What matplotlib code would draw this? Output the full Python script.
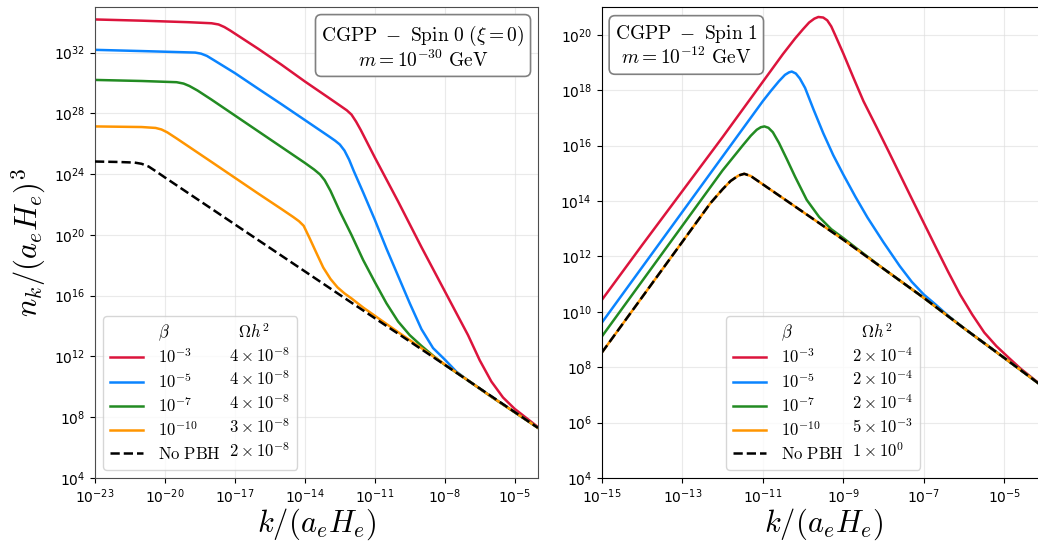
import matplotlib
matplotlib.use("Agg")
import matplotlib.pyplot as plt
from matplotlib.lines import Line2D
from matplotlib.font_manager import FontProperties
import numpy as np

# ---- data: log10 k and log10 n_k ----
# left panel, spin 0, m = 1e-30 GeV
L_red_k = [-23, -21, -19, -18, -17.7, -17.45, -17.2, -16, -15, -14, -13, -12.5, -12.2, -12.0, -11.8, -11.6, -11, -10, -9, -8, -7, -6.5, -6, -5.5, -5, -4.5, -4]
L_red_n = [34.18, 34.1, 34.0, 33.93, 33.85, 33.68, 33.45, 32.25, 31.2, 30.1, 29.05, 28.52, 28.2, 27.92, 27.45, 26.9, 25.1, 22.2, 19.2, 16.3, 13.4, 11.75, 10.35, 9.3, 8.55, 7.95, 7.35]
L_blue_k = [-23, -21, -18.7, -18.45, -18.2, -17.9, -17, -16, -15, -14, -13, -12.7, -12.5, -12.3, -12.1, -11.9, -11.5, -11, -10.5, -10, -9.5, -9, -8.5, -8, -7.5, -7, -6, -5, -4]
L_blue_n = [32.18, 32.1, 32.0, 31.93, 31.78, 31.5, 30.65, 29.62, 28.6, 27.56, 26.52, 26.2, 25.95, 25.55, 24.95, 24.2, 22.8, 21.0, 19.1, 17.3, 15.5, 13.8, 12.55, 11.8, 11.0, 10.42, 9.35, 8.33, 7.3]
L_green_k = [-23, -21, -19.5, -19.2, -18.95, -18.6, -18, -17, -16, -15, -14, -13.6, -13.35, -13.15, -12.9, -12.5, -12, -11.5, -11, -10.5, -10, -9.5, -9, -8.5, -8, -7, -6, -5, -4]
L_green_n = [30.2, 30.13, 30.05, 29.96, 29.8, 29.5, 28.9, 27.86, 26.82, 25.78, 24.74, 24.3, 23.98, 23.6, 22.9, 21.55, 20.0, 18.35, 16.9, 15.5, 14.3, 13.4, 12.7, 12.05, 11.45, 10.42, 9.35, 8.33, 7.3]
L_orange_k = [-23, -21, -20.4, -20.15, -19.9, -19.5, -18, -16, -15, -14.5, -14.25, -14.05, -13.8, -13.5, -13.21, -12.9, -12.6, -12.3, -12.0, -11.5, -11, -10, -9, -8, -7, -6, -5, -4]
L_orange_n = [27.14, 27.1, 27.04, 26.94, 26.75, 26.35, 24.8, 22.72, 21.7, 21.18, 20.9, 20.6, 19.8, 18.8, 17.85, 17.1, 16.55, 16.15, 15.82, 15.22, 14.68, 13.6, 12.55, 11.48, 10.42, 9.35, 8.33, 7.3]
L_black_k = [-23, -22, -21.3, -21.0, -20.7, -20.4, -20, -18, -16, -14, -12, -10, -8, -6, -4]
L_black_n = [24.83, 24.8, 24.76, 24.68, 24.5, 24.2, 23.78, 21.72, 19.66, 17.6, 15.54, 13.5, 11.45, 9.38, 7.3]

# right panel, spin 1, m = 1e-12 GeV
R_red_k = [-15, -14, -13, -12, -11, -10.5, -10.2, -10.0, -9.85, -9.72, -9.62, -9.5, -9.4, -9.3, -9.2, -9.0, -8.75, -8.5, -8.17, -7.88, -7.59, -7.3, -7.0, -6.7, -6.4, -6.1, -5.8, -5.5, -5.2, -4.9, -4.6, -4.3, -4.0]
R_red_n = [10.42, 12.4, 14.35, 16.3, 18.3, 19.3, 19.86, 20.2, 20.44, 20.58, 20.64, 20.62, 20.52, 20.3, 19.98, 19.32, 18.45, 17.6, 16.65, 15.8, 14.94, 14.08, 13.2, 12.32, 11.45, 10.62, 9.9, 9.25, 8.76, 8.35, 7.95, 7.6, 7.25]
R_blue_k = [-15, -14, -13, -12, -11, -10.8, -10.6, -10.45, -10.35, -10.28, -10.18, -10.08, -9.95, -9.74, -9.5, -9.25, -9.0, -8.7, -8.4, -8.0, -7.6, -7.3, -7.0, -6.7, -6.4, -6, -5, -4]
R_blue_n = [9.6, 11.6, 13.6, 15.6, 17.6, 17.97, 18.32, 18.55, 18.64, 18.67, 18.6, 18.42, 18.08, 17.3, 16.45, 15.65, 14.95, 14.15, 13.4, 12.5, 11.65, 11.08, 10.62, 10.25, 9.86, 9.4, 8.33, 7.25]
R_green_k = [-15, -14, -13, -12, -11.5, -11.3, -11.15, -11.05, -10.96, -10.86, -10.75, -10.6, -10.4, -10.2, -9.91, -9.6, -9.3, -9.0, -8.7, -8, -7, -6, -5, -4]
R_green_n = [9.1, 11.1, 13.1, 15.1, 16.0, 16.35, 16.57, 16.66, 16.69, 16.64, 16.48, 16.1, 15.5, 14.88, 14.04, 13.42, 12.98, 12.66, 12.32, 11.55, 10.5, 9.4, 8.33, 7.25]
R_black_k = [-15, -14, -13, -12.3, -12.0, -11.8, -11.6, -11.46, -11.3, -11.15, -11.0, -10, -9, -8, -7, -6, -5, -4]
R_black_n = [8.52, 10.52, 12.52, 13.92, 14.42, 14.72, 14.92, 14.98, 14.9, 14.75, 14.6, 13.6, 12.6, 11.55, 10.5, 9.4, 8.33, 7.25]
R_orange_k = R_black_k
R_orange_n = R_black_n

beta_labels = [r'$10^{-3}$', r'$10^{-5}$', r'$10^{-7}$', r'$10^{-10}$', r'$\mathrm{No\ PBH}$']
L_omega = [r'$4\times10^{-8}$', r'$4\times10^{-8}$', r'$4\times10^{-8}$', r'$3\times10^{-8}$', r'$2\times10^{-8}$']
R_omega = [r'$2\times10^{-4}$', r'$2\times10^{-4}$', r'$2\times10^{-4}$', r'$5\times10^{-3}$', r'$1\times10^{0}$']

colors = ['#DC143C', '#0A84FF', '#228B22', '#FF9500']

W, H = 1038, 541
fig = plt.figure(figsize=(W / 100, H / 100), dpi=100)
axL = fig.add_axes([95 / W, 1 - 478 / H, 443 / W, 471 / H])
axR = fig.add_axes([601.7 / W, 1 - 478 / H, 443 / W, 471 / H])

cmfont = FontProperties(size=12, math_fontfamily='cm')


def draw(ax, curves):
    lines = []
    for (k, n), c in zip(curves[:4], colors):
        l, = ax.plot(10.0 ** np.array(k), 10.0 ** np.array(n), color=c, lw=1.8)
        lines.append(l)
    k, n = curves[4]
    l, = ax.plot(10.0 ** np.array(k), 10.0 ** np.array(n), color='k', lw=1.8, ls='--', zorder=5)
    lines.append(l)
    ax.set_xscale('log')
    ax.set_yscale('log')
    ax.minorticks_off()
    ax.grid(True, color='#dddddd', lw=0.8, alpha=0.6)
    ax.tick_params(labelsize=10)
    ax.set_xlabel(r'$k/(a_eH_e)$', fontsize=22, math_fontfamily='cm', labelpad=0)
    return lines


def legend(ax, lines, omega, loc):
    blank = Line2D([], [], color='none')
    handles = [blank] + lines + [blank] * 6
    labels = [r'$\beta$'] + beta_labels + [r'$\ \ \Omega h^2$'] + omega
    ax.legend(handles, labels, ncol=2, loc=loc, prop=cmfont, columnspacing=-2.4,
              handlelength=2.0, handletextpad=0.9, labelspacing=0.3, framealpha=0.8)


linesL = draw(axL, [(L_red_k, L_red_n), (L_blue_k, L_blue_n), (L_green_k, L_green_n),
                    (L_orange_k, L_orange_n), (L_black_k, L_black_n)])
axL.set_xlim(1e-23, 1e-4)
axL.set_ylim(1e4, 1e35)
axL.set_xticks([10.0 ** e for e in range(-23, -4, 3)])
axL.set_yticks([10.0 ** e for e in range(4, 33, 4)])
axL.minorticks_off()
axL.set_ylabel(r'$n_k/(a_eH_e)^3$', fontsize=22, math_fontfamily='cm', labelpad=4)
for s in axL.spines.values():
    s.set_color('0.3')
legend(axL, linesL, L_omega, 'lower left')
axL.text(0.97, 0.965, r'$\mathrm{CGPP}\ -\ \mathrm{Spin}\ 0\ (\xi=0)$' + '\n' + r'$m=10^{-30}\ \mathrm{GeV}$',
         transform=axL.transAxes, ha='right', va='top', multialignment='center',
         fontsize=14, math_fontfamily='cm', linespacing=1.1,
         bbox=dict(boxstyle='round,pad=0.3', fc='white', ec='gray', lw=1.2))

linesR = draw(axR, [(R_red_k, R_red_n), (R_blue_k, R_blue_n), (R_green_k, R_green_n),
                    (R_orange_k, R_orange_n), (R_black_k, R_black_n)])
axR.set_xlim(1e-15, 1e-4)
axR.set_ylim(1e4, 1e21)
axR.set_xticks([10.0 ** e for e in range(-15, -4, 2)])
axR.set_yticks([10.0 ** e for e in range(4, 21, 2)])
axR.minorticks_off()
legend(axR, linesR, R_omega, 'lower center')
axR.text(0.03, 0.965, r'$\mathrm{CGPP}\ -\ \mathrm{Spin}\ 1$' + '\n' + r'$m=10^{-12}\ \mathrm{GeV}$',
         transform=axR.transAxes, ha='left', va='top', multialignment='center',
         fontsize=14, math_fontfamily='cm', linespacing=1.1,
         bbox=dict(boxstyle='round,pad=0.3', fc='white', ec='gray', lw=1.2))

fig.savefig('out.png', dpi=100)
